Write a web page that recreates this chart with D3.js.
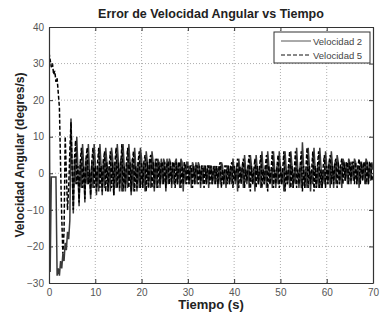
<!DOCTYPE html>
<html><head><meta charset="utf-8">
<script src="https://cdn.jsdelivr.net/npm/d3@7"></script>
<style>body{margin:0;background:#fff}svg{display:block}</style>
</head><body><div id="chart"></div>
<script>
const title = "Error de Velocidad Angular vs Tiempo";
const xLabel = "Tiempo (s)";
const yLabel = "Velocidad Angular (degres/s)";
const xTicks = [0,10,20,30,40,50,60,70];
const yTicks = [-30,-20,-10,0,10,20,30,40];
const seriesNames = ["Velocidad 2","Velocidad 5"];
const dt = 0.25; // sample spacing (s)
const velocidad2 = [
34,-27,-1,-1,-1,-1,-1,-28,-26,-28,-24,-26,-22,-24,-19,-21,-16,-18,-13,15,
2,-11,4,-3,10, 1,-9,3,-4,8, 2,-8,4,-3,8, 1,-7,3,-4,8,
3,-6,2,-5,8, 2,-6,4,-4,7, 3,-5,2,-5,7, 4,-6,3,-4,8,
3,-5,4,-5,8, 2,-5,3,-4,8, 3,-6,4,-5,7, 2,-5,3,-4,7,
4,-4,3,-5,6, 3,-4,4,-4,6, 3,-5,4,-4,4, 3,-4,4,-3,4,
3,-5,4,-3,4, 3,-4,3,-3,3, 4,-3,3,-4,4, 3,-5,3,-3,3,
3,-3,2,-4,3, 2,-3,3,-3,3, 2,-4,2,-3,2, 2,-3,2,-4,2,
2,-3,2,-3,2, 1,-4,2,-3,3, 2,-3,1,-4,2, 2,-3,2,-3,4,
1,-3,2,-5,4, 1,-2,2,-4,5, 1,-3,2,-4,5, 2,-3,1,-5,5,
1,-3,2,-4,6, 1,-3,2,-4,6, 2,-3,1,-4,6, 1,-4,2,-3,6,
2,-3,1,-5,6, 1,-3,2,-4,6, 2,-4,1,-3,7, 1,-4,2,-4,8.5,
2,-4,1,-4,7, 2,-5,1,-3,7, 1,-4,2,-4,7, 2,-4,1,-3,6,
2,-3,3,-4,6, 2,-4,3,-3,5, 3,-3,2,-4,4, 3,-2,3,-3,4,
3,-3,3,-2,4, 3,-3,2,-4,3, 3,-2,3,-3,4, 3,-3,3,-2,3,
1];
const velocidad5 = [
33,31,29,30,27,28,25,26,22,18,2,-12,-22,-16,10,0,-10,-4,6,14,
1,-10,4,9,-3, 2,-8,3,7,-4, 2,-7,4,7,-3, 1,-6,3,7,-4,
2,-5,3,7,-4, 2,-5,3,6,-5, 3,-5,2,6,-4, 3,-6,3,7,-4,
3,-4,2,8,-5, 2,-4,3,7,-4, 3,-5,3,6,-5, 2,-4,3,6,-4,
3,-4,3,5,-5, 3,-4,4,5,-4, 3,-4,3,4,-4, 3,-3,3,3,-3,
3,-4,3,3,-3, 3,-3,3,3,-4, 3,-3,3,3,-4, 2,-3,3,2,-3,
2,-3,2,2,-4, 2,-3,2,2,-3, 2,-3,2,2,-4, 2,-3,2,2,-3,
2,-3,1,2,-3, 2,-3,2,3,-4, 1,-3,2,2,-3, 2,-3,2,3,-4,
2,-2,1,4,-4, 2,-3,2,4,-4, 1,-2,2,5,-5, 2,-3,1,4,-4,
2,-3,2,5,-4, 1,-3,2,5,-5, 2,-3,1,6,-4, 1,-3,2,5,-4,
2,-3,1,6,-5, 1,-3,2,6,-4, 2,-4,1,6,-4, 1,-3,2,6,-5,
2,-4,1,7,-4, 2,-3,1,6,-5, 2,-4,2,6,-4, 1,-4,2,5,-4,
2,-3,3,5,-3, 2,-3,3,4,-4, 3,-3,2,4,-3, 3,-2,3,3,-3,
3,-2,3,3,-3, 3,-3,2,4,-3, 3,-2,3,3,-3, 3,-3,3,3,-2,
0];

const W = 388, H = 328;
const m = {left:49, right:15, top:27, bottom:45};
const svg = d3.select("#chart").append("svg").attr("width",W).attr("height",H)
  .style("font-family","'Liberation Sans', Arial, sans-serif");
const x = d3.scaleLinear().domain([0,70]).range([m.left, W-m.right]);
const y = d3.scaleLinear().domain([-30,40]).range([H-m.bottom, m.top]);

// grid
const g = svg.append("g");
g.selectAll(".gx").data(xTicks.slice(1,-1)).join("line")
  .attr("x1",d=>x(d)).attr("x2",d=>x(d)).attr("y1",y(-30)).attr("y2",y(40))
  .attr("stroke","#999").attr("stroke-width",0.8).attr("stroke-dasharray","1,2");
g.selectAll(".gy").data(yTicks.slice(1,-1)).join("line")
  .attr("y1",d=>y(d)).attr("y2",d=>y(d)).attr("x1",x(0)).attr("x2",x(70))
  .attr("stroke","#999").attr("stroke-width",0.8).attr("stroke-dasharray","1,2");

// data
const line = d3.line().x((d,i)=>x(i*dt)).y(d=>y(d));
const clip = svg.append("clipPath").attr("id","c").append("rect")
  .attr("x",x(0)).attr("y",y(40)).attr("width",x(70)-x(0)).attr("height",y(-30)-y(40));
const pg = svg.append("g").attr("clip-path","url(#c)");
pg.append("path").datum(velocidad2).attr("d",line).attr("fill","none")
  .attr("stroke","#3a3a3a").attr("stroke-width",1.5);
pg.append("path").datum(velocidad5).attr("d",line).attr("fill","none")
  .attr("stroke","#000").attr("stroke-width",1.5).attr("stroke-dasharray","4,2");

// axes
const axB = svg.append("g").attr("transform",`translate(0,${y(-30)})`)
  .call(d3.axisBottom(x).tickValues(xTicks).tickSizeInner(-4).tickSizeOuter(0).tickPadding(6));
const axL = svg.append("g").attr("transform",`translate(${x(0)},0)`)
  .call(d3.axisLeft(y).tickValues(yTicks).tickSizeInner(-4).tickSizeOuter(0).tickPadding(5));
const axT = svg.append("g").attr("transform",`translate(0,${y(40)})`)
  .call(d3.axisTop(x).tickValues(xTicks).tickSizeInner(-4).tickSizeOuter(0).tickFormat(""));
const axR = svg.append("g").attr("transform",`translate(${x(70)},0)`)
  .call(d3.axisRight(y).tickValues(yTicks).tickSizeInner(-4).tickSizeOuter(0).tickFormat(""));
[axB,axL,axT,axR].forEach(a=>{
  a.select(".domain").attr("stroke","#333").attr("stroke-width",1.2);
  a.selectAll(".tick line").attr("stroke","#333");
  a.selectAll("text").attr("fill","#555").style("font-size","10px")
   .style("font-family","'Liberation Sans', Arial, sans-serif");
});

// titles
svg.append("text").attr("x",(x(0)+x(70))/2).attr("y",18).attr("text-anchor","middle")
  .style("font-size","12.5px").style("font-weight","bold").attr("fill","#222").text(title);
svg.append("text").attr("x",(x(0)+x(70))/2).attr("y",309).attr("text-anchor","middle")
  .style("font-size","13px").style("font-weight","bold").attr("fill","#222").text(xLabel);
svg.append("text").attr("transform",`translate(24,${(y(-30)+y(40))/2}) rotate(-90)`)
  .attr("text-anchor","middle").style("font-size","12px").style("font-weight","bold")
  .attr("fill","#222").text(yLabel);

// legend
const lg = svg.append("g");
lg.append("rect").attr("x",274).attr("y",32).attr("width",96).attr("height",31)
  .attr("fill","#fff").attr("stroke","#333").attr("stroke-width",1);
const lstyles = [{c:"#555",d:null},{c:"#111",d:"4,2"}];
seriesNames.forEach((n,i)=>{
  const yy = 41 + i*14;
  lg.append("line").attr("x1",281).attr("x2",311).attr("y1",yy).attr("y2",yy)
    .attr("stroke",lstyles[i].c).attr("stroke-width",1).attr("stroke-dasharray",lstyles[i].d);
  lg.append("text").attr("x",313).attr("y",yy+3.5).style("font-size","9.5px")
    .attr("fill","#444").text(n);
});
</script></body></html>
